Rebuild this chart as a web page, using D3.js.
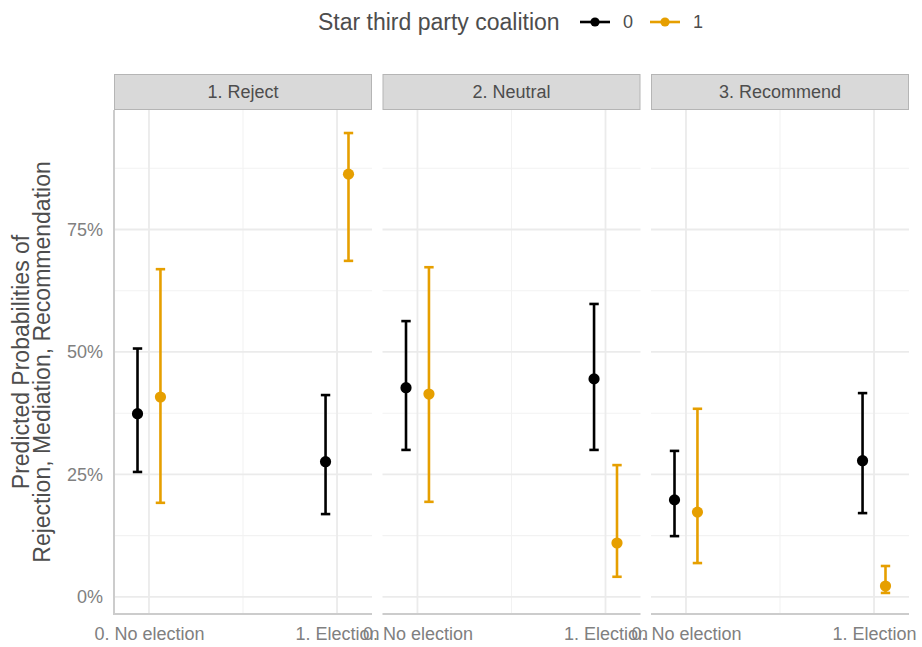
<!DOCTYPE html>
<html>
<head>
<meta charset="utf-8">
<script src="https://cdn.jsdelivr.net/npm/d3@7"></script>
<style>
  body { margin: 0; background: #fff; }
  text { font-family: "Liberation Sans", Arial, Helvetica, sans-serif; }
</style>
</head>
<body>
<svg id="chart"></svg>
<script>
// chart.js -- predicted probabilities by election and coalition, one facet per outcome.

// ----------------------------------------------------------------------------
// Data
// ----------------------------------------------------------------------------

var panels = ["1. Reject", "2. Neutral", "3. Recommend"];
var electionLabels = ["0. No election", "1. Election"];
var coalitionGroups = ["0", "1"];
var groupColors = ["#000000", "#E69F00"];
var yTicks = [0, 0.25, 0.5, 0.75];
var yMinorTicks = [0.125, 0.375, 0.625, 0.875];

// one row per panel: [no election, election]
var estimate0 = [[0.374, 0.276], [0.427, 0.445], [0.198, 0.278]];
var lower0    = [[0.255, 0.169], [0.300, 0.300], [0.124, 0.171]];
var upper0    = [[0.507, 0.412], [0.563, 0.598], [0.298, 0.416]];

var estimate1 = [[0.408, 0.863], [0.414, 0.110], [0.173, 0.022]];
var lower1    = [[0.192, 0.686], [0.194, 0.041], [0.069, 0.008]];
var upper1    = [[0.669, 0.947], [0.673, 0.269], [0.384, 0.063]];


// ----------------------------------------------------------------------------
// Layout
// ----------------------------------------------------------------------------

var width = 922, height = 647;
var panelLeft = 114, panelWidth = 258, panelGap = 10.5;
var plotTop = 110, plotBottom = 614;
var stripTop = 74;
var dodge = 0.061;

var svg = d3.select("#chart")
    .attr("width", width)
    .attr("height", height);

svg.append("rect")
    .attr("width", width)
    .attr("height", height)
    .attr("fill", "#fff");

var x = d3.scaleLinear().domain([-0.186, 1.186]).range([0, panelWidth]);
var y = d3.scaleLinear().domain([-0.035, 0.994]).range([plotBottom, plotTop]);

// Build flat rows for drawing.
function buildRows(panelIndex) {
    var rows = [];
    var est = [estimate0, estimate1], lo = [lower0, lower1], hi = [upper0, upper1];
    coalitionGroups.forEach(function(g, gi) {
        electionLabels.forEach(function(e, ei) {
            rows.push({
                group: gi,
                x: ei + (gi == 0 ? -dodge : dodge),
                est: est[gi][panelIndex][ei],
                lo: lo[gi][panelIndex][ei],
                hi: hi[gi][panelIndex][ei]
            });
        });
    });
    return rows;
}


// ----------------------------------------------------------------------------
// Panels
// ----------------------------------------------------------------------------

panels.forEach(function(name, pi) {
    var px = panelLeft + pi * (panelWidth + panelGap);
    var g = svg.append("g").attr("transform", "translate(" + px + ",0)");

    // minor grid
    g.selectAll(".minor-h").data(yMinorTicks).enter().append("line")
        .attr("x1", 0).attr("x2", panelWidth)
        .attr("y1", function(d) { return y(d); })
        .attr("y2", function(d) { return y(d); })
        .attr("stroke", "#f2f2f2").attr("stroke-width", 1.1);
    g.append("line")
        .attr("x1", x(0.5)).attr("x2", x(0.5))
        .attr("y1", plotTop).attr("y2", plotBottom)
        .attr("stroke", "#f2f2f2").attr("stroke-width", 1.1);

    // major grid
    g.selectAll(".major-h").data(yTicks).enter().append("line")
        .attr("x1", 0).attr("x2", panelWidth)
        .attr("y1", function(d) { return y(d); })
        .attr("y2", function(d) { return y(d); })
        .attr("stroke", "#ebebeb").attr("stroke-width", 1.8);
    g.selectAll(".major-v").data([0, 1]).enter().append("line")
        .attr("x1", function(d) { return x(d); })
        .attr("x2", function(d) { return x(d); })
        .attr("y1", plotTop).attr("y2", plotBottom)
        .attr("stroke", "#ebebeb").attr("stroke-width", 1.8);

    // strip
    g.append("rect")
        .attr("x", 0.5).attr("y", stripTop + 0.5)
        .attr("width", panelWidth - 1).attr("height", plotTop - stripTop - 1)
        .attr("fill", "#d9d9d9").attr("stroke", "#b5b5b5");
    g.append("text")
        .attr("x", panelWidth / 2).attr("y", (stripTop + plotTop) / 2)
        .attr("dy", "0.35em")
        .attr("text-anchor", "middle")
        .attr("font-size", 18)
        .attr("fill", "#4d4d4d")
        .text(name);

    // x axis
    var xAxis = g.append("g")
        .attr("transform", "translate(0," + plotBottom + ")")
        .call(d3.axisBottom(x).tickValues([0, 1])
            .tickFormat(function(d) { return electionLabels[d]; })
            .tickSize(0).tickPadding(13));
    xAxis.select(".domain").remove();
    xAxis.selectAll("text")
        .attr("font-size", 18)
        .attr("fill", "#808080");
    g.append("line")
        .attr("x1", 0).attr("x2", panelWidth)
        .attr("y1", plotBottom).attr("y2", plotBottom)
        .attr("stroke", "#cccccc").attr("stroke-width", 2);

    // y axis on the first panel only
    if (pi == 0) {
        var yAxis = g.append("g")
            .call(d3.axisLeft(y).tickValues(yTicks)
                .tickFormat(d3.format(".0%"))
                .tickSize(0).tickPadding(11));
        yAxis.select(".domain").remove();
        yAxis.selectAll("text")
            .attr("font-size", 18)
            .attr("fill", "#808080");
        g.append("line")
            .attr("x1", 0).attr("x2", 0)
            .attr("y1", plotTop).attr("y2", plotBottom + 1)
            .attr("stroke", "#cccccc").attr("stroke-width", 2);
    }

    // error bars and points
    var rows = buildRows(pi);
    var bars = g.selectAll(".bar").data(rows).enter().append("g")
        .attr("stroke", function(d) { return groupColors[d.group]; })
        .attr("stroke-width", 2.6);
    bars.append("line")
        .attr("x1", function(d) { return x(d.x); })
        .attr("x2", function(d) { return x(d.x); })
        .attr("y1", function(d) { return y(d.lo); })
        .attr("y2", function(d) { return y(d.hi); });
    bars.append("line")
        .attr("x1", function(d) { return x(d.x) - 4.7; })
        .attr("x2", function(d) { return x(d.x) + 4.7; })
        .attr("y1", function(d) { return y(d.lo); })
        .attr("y2", function(d) { return y(d.lo); });
    bars.append("line")
        .attr("x1", function(d) { return x(d.x) - 4.7; })
        .attr("x2", function(d) { return x(d.x) + 4.7; })
        .attr("y1", function(d) { return y(d.hi); })
        .attr("y2", function(d) { return y(d.hi); });
    g.selectAll(".pt").data(rows).enter().append("circle")
        .attr("cx", function(d) { return x(d.x); })
        .attr("cy", function(d) { return y(d.est); })
        .attr("r", 5.6)
        .attr("fill", function(d) { return groupColors[d.group]; });
});


// ----------------------------------------------------------------------------
// Y title and legend
// ----------------------------------------------------------------------------

var yTitle = svg.append("text")
    .attr("transform", "translate(0," + (plotTop + plotBottom) / 2 + ") rotate(-90)")
    .attr("text-anchor", "middle")
    .attr("font-size", 23)
    .attr("fill", "#4d4d4d");
yTitle.append("tspan").attr("x", 0).attr("y", 29).text("Predicted Probabilities of");
yTitle.append("tspan").attr("x", 0).attr("y", 50).text("Rejection, Mediation, Recommendation");

var legend = svg.append("g").attr("transform", "translate(0,22)");
legend.append("text")
    .attr("x", 318).attr("dy", "0.35em")
    .attr("font-size", 23)
    .attr("fill", "#4d4d4d")
    .text("Star third party coalition");

var keyX = [580, 650];
coalitionGroups.forEach(function(label, i) {
    legend.append("line")
        .attr("x1", keyX[i]).attr("x2", keyX[i] + 30)
        .attr("stroke", groupColors[i]).attr("stroke-width", 2.6);
    legend.append("circle")
        .attr("cx", keyX[i] + 15).attr("r", 4.6)
        .attr("fill", groupColors[i]);
    legend.append("text")
        .attr("x", keyX[i] + 48).attr("dy", "0.35em")
        .attr("text-anchor", "middle")
        .attr("font-size", 18)
        .attr("fill", "#4d4d4d")
        .text(label);
});
</script>
</body>
</html>
